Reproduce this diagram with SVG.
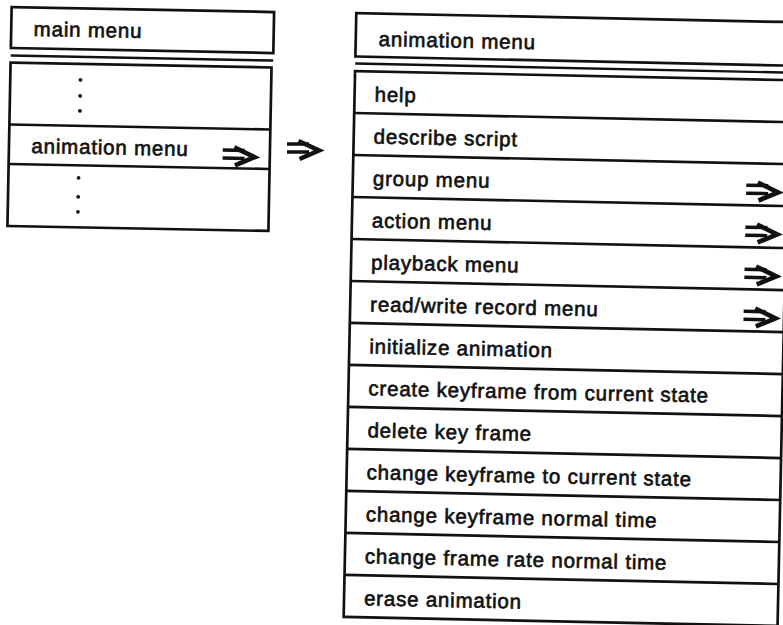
<svg xmlns="http://www.w3.org/2000/svg" xmlns:xlink="http://www.w3.org/1999/xlink" width="783" height="625" viewBox="0 0 783 625">
<style>
  .box { fill: #fff; stroke: #111; stroke-width: 2.7; }
  .ln { stroke: #111; stroke-width: 2.7; fill: none; }
  .sep { stroke: #111; stroke-width: 2.4; fill: none; }
  .t { font-family: "Liberation Sans", Arial, Helvetica, sans-serif; font-size: 20.5px; letter-spacing: 0.8px; fill: #111; stroke: #111; stroke-width: 0.65; }
  .dot { fill: #111; }
</style>
<defs>
  <g id="arr">
    <path d="M0,-4 H22 M0,4 H22" stroke="#111" stroke-width="3.5" fill="none"/>
    <path d="M11.5,-7 L32,2.5 L12.5,11" stroke="#111" stroke-width="4.6" fill="none" stroke-linejoin="miter" stroke-miterlimit="6"/>
  </g>
</defs>
<rect width="783" height="625" fill="#fff"/>

<g id="main-menu" transform="rotate(1.1 140 120)">
  <rect class="box" x="9.5" y="9.5" width="262.5" height="41"/>
  <text class="t" x="32" y="38">main menu</text>
  <line class="sep" x1="9.5" y1="58" x2="272" y2="58"/>
  <rect class="box" x="9.5" y="65" width="261" height="163.5"/>
  <line class="ln" x1="9.5" y1="127" x2="270.5" y2="127"/>
  <line class="ln" x1="9.5" y1="166.5" x2="270.5" y2="166.5"/>
  <circle class="dot" cx="79.7" cy="81" r="1.9"/>
  <circle class="dot" cx="79.7" cy="97" r="1.9"/>
  <circle class="dot" cx="79.7" cy="112" r="1.9"/>
  <text class="t" x="32" y="155">animation menu</text>
  <use xlink:href="#arr" href="#arr" x="223.3" y="152.5"/>
  <circle class="dot" cx="79.7" cy="179" r="1.9"/>
  <circle class="dot" cx="79.7" cy="198" r="1.9"/>
  <circle class="dot" cx="79.7" cy="213" r="1.9"/>
</g>

<g id="connectors">
  <use xlink:href="#arr" href="#arr" x="287" y="148"/>
</g>

<g id="animation-menu" transform="rotate(1.2 566 340)">
  <rect class="box" x="349.5" y="17.5" width="434" height="43.5"/>
  <text class="t" x="372.5" y="50">animation menu</text>
  <line class="sep" x1="349.5" y1="68" x2="783.5" y2="68"/>
  <rect class="box" x="349.5" y="75.5" width="434" height="546"/>
  <g class="ln">
    <line x1="349.5" y1="117.5" x2="783.5" y2="117.5"/>
    <line x1="349.5" y1="159.5" x2="783.5" y2="159.5"/>
    <line x1="349.5" y1="201.5" x2="783.5" y2="201.5"/>
    <line x1="349.5" y1="243.5" x2="783.5" y2="243.5"/>
    <line x1="349.5" y1="285.5" x2="783.5" y2="285.5"/>
    <line x1="349.5" y1="327.5" x2="783.5" y2="327.5"/>
    <line x1="349.5" y1="369.5" x2="783.5" y2="369.5"/>
    <line x1="349.5" y1="411.5" x2="783.5" y2="411.5"/>
    <line x1="349.5" y1="453.5" x2="783.5" y2="453.5"/>
    <line x1="349.5" y1="495.5" x2="783.5" y2="495.5"/>
    <line x1="349.5" y1="537.5" x2="783.5" y2="537.5"/>
    <line x1="349.5" y1="579.5" x2="783.5" y2="579.5"/>
  </g>
  <text class="t" x="369.5" y="105.5">help</text>
  <text class="t" x="369.5" y="147.5">describe script</text>
  <text class="t" x="369.5" y="189.5">group menu</text>
  <text class="t" x="369.5" y="231.5">action menu</text>
  <text class="t" x="369.5" y="273.5">playback menu</text>
  <text class="t" x="369.5" y="315.5">read/write record menu</text>
  <text class="t" x="369.5" y="357.5">initialize animation</text>
  <text class="t" x="369.5" y="399.5">create keyframe from current state</text>
  <text class="t" x="369.5" y="441.5">delete key frame</text>
  <text class="t" x="369.5" y="483.5">change keyframe to current state</text>
  <text class="t" x="369.5" y="525.5">change keyframe normal time</text>
  <text class="t" x="369.5" y="567.5">change frame rate normal time</text>
  <text class="t" x="369.5" y="609.5">erase animation</text>
  <use xlink:href="#arr" href="#arr" x="743" y="185.5"/>
  <use xlink:href="#arr" href="#arr" x="743" y="227.5"/>
  <use xlink:href="#arr" href="#arr" x="743" y="269.5"/>
  <use xlink:href="#arr" href="#arr" x="743" y="311.5"/>
</g>
</svg>
